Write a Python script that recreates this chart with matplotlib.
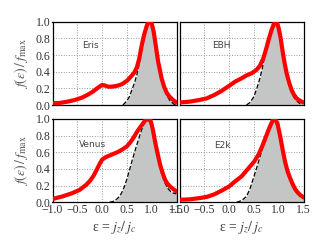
import matplotlib
matplotlib.use("Agg")
import matplotlib.pyplot as plt

plt.rcParams['font.family'] = ['Liberation Serif', 'DejaVu Serif']
plt.rcParams['mathtext.fontset'] = 'stix'

names = ["Eris", "EBH", "Venus", "E2k"]

eris_x = [-1.0, -0.85, -0.7, -0.55, -0.4, -0.3, -0.2, -0.1, -0.03, 0.0, 0.05, 0.12, 0.2, 0.3, 0.4, 0.5, 0.58,
          0.65, 0.7, 0.75, 0.8, 0.85, 0.9, 0.93, 0.97, 1.0, 1.04, 1.08, 1.13, 1.2, 1.25, 1.3, 1.36, 1.43, 1.5]
eris_y = [0.02, 0.025, 0.04, 0.06, 0.09, 0.12, 0.155, 0.2, 0.23, 0.24, 0.235, 0.22, 0.22, 0.23, 0.25, 0.29, 0.34,
          0.39, 0.45, 0.56, 0.72, 0.85, 0.95, 0.995, 1.0, 0.98, 0.88, 0.72, 0.52, 0.32, 0.22, 0.15, 0.10, 0.06, 0.03]
eris_dx = [0.42, 0.5, 0.55, 0.6, 0.65, 0.7, 0.75, 0.8, 0.85, 0.9, 0.95, 1.0, 1.05, 1.1, 1.15, 1.2, 1.25, 1.3,
           1.37, 1.45, 1.5]
eris_dy = [0.0, 0.05, 0.1, 0.18, 0.26, 0.36, 0.5, 0.68, 0.83, 0.94, 0.99, 0.97, 0.85, 0.64, 0.44, 0.29, 0.19,
           0.12, 0.05, 0.01, 0.0]

ebh_x = [-1.0, -0.8, -0.6, -0.45, -0.3, -0.15, 0.0, 0.12, 0.25, 0.35, 0.45, 0.55, 0.62, 0.69, 0.75, 0.8, 0.85,
         0.9, 0.94, 0.97, 1.0, 1.04, 1.08, 1.12, 1.16, 1.21, 1.26, 1.31, 1.36, 1.43, 1.5]
ebh_y = [0.03, 0.04, 0.06, 0.08, 0.12, 0.17, 0.23, 0.28, 0.32, 0.355, 0.38, 0.42, 0.47, 0.56, 0.68, 0.79, 0.89,
         0.97, 1.0, 0.98, 0.92, 0.8, 0.64, 0.5, 0.38, 0.27, 0.18, 0.12, 0.08, 0.05, 0.03]
ebh_dx = [0.35, 0.42, 0.5, 0.56, 0.62, 0.67, 0.72, 0.77, 0.82, 0.87, 0.91, 0.95, 1.0, 1.04, 1.08, 1.12, 1.16,
          1.21, 1.26, 1.31, 1.36, 1.42, 1.48]
ebh_dy = [0.0, 0.03, 0.1, 0.2, 0.32, 0.44, 0.6, 0.74, 0.86, 0.95, 0.99, 0.99, 0.9, 0.77, 0.61, 0.47, 0.35,
          0.24, 0.15, 0.09, 0.05, 0.02, 0.0]

venus_x = [-1.0, -0.8, -0.6, -0.45, -0.32, -0.24, -0.17, -0.1, -0.05, 0.0, 0.07, 0.15, 0.23, 0.31, 0.4, 0.5,
           0.57, 0.63, 0.7, 0.77, 0.83, 0.88, 0.93, 0.97, 1.0, 1.03, 1.07, 1.12, 1.17, 1.22, 1.27, 1.32, 1.37,
           1.43, 1.5]
venus_y = [0.04, 0.07, 0.11, 0.15, 0.21, 0.26, 0.32, 0.4, 0.46, 0.51, 0.54, 0.56, 0.58, 0.6, 0.63, 0.67,
           0.72, 0.77, 0.84, 0.9, 0.95, 0.99, 1.0, 0.99, 0.93, 0.85, 0.72, 0.58, 0.45, 0.35, 0.27, 0.22, 0.19,
           0.16, 0.13]
venus_dx = [0.15, 0.22, 0.3, 0.35, 0.4, 0.45, 0.5, 0.55, 0.6, 0.65, 0.7, 0.77, 0.83, 0.88, 0.93, 0.97, 1.0,
            1.04, 1.08, 1.12, 1.17, 1.22, 1.27, 1.32, 1.38, 1.44, 1.5]
venus_dy = [0.0, 0.01, 0.04, 0.07, 0.12, 0.19, 0.28, 0.38, 0.49, 0.59, 0.69, 0.82, 0.92, 0.97, 0.98, 0.96,
            0.9, 0.8, 0.66, 0.53, 0.41, 0.31, 0.23, 0.17, 0.13, 0.11, 0.1]

e2k_x = [-1.0, -0.8, -0.6, -0.45, -0.3, -0.15, 0.0, 0.12, 0.25, 0.38, 0.51, 0.6, 0.66, 0.72, 0.79, 0.84, 0.88,
         0.91, 0.94, 0.98, 1.03, 1.08, 1.13, 1.18, 1.23, 1.28, 1.33, 1.38, 1.43, 1.5]
e2k_y = [0.03, 0.035, 0.05, 0.065, 0.095, 0.14, 0.19, 0.25, 0.31, 0.4, 0.49, 0.58, 0.66, 0.75, 0.86, 0.93,
         0.98, 1.0, 0.99, 0.93, 0.79, 0.63, 0.48, 0.37, 0.29, 0.22, 0.16, 0.12, 0.09, 0.06]
e2k_dx = [0.15, 0.25, 0.35, 0.42, 0.49, 0.54, 0.59, 0.63, 0.68, 0.73, 0.79, 0.84, 0.88, 0.91, 0.94, 0.98, 1.03,
          1.08, 1.13, 1.18, 1.23, 1.28, 1.33, 1.38, 1.43, 1.5]
e2k_dy = [0.0, 0.02, 0.07, 0.16, 0.29, 0.38, 0.48, 0.56, 0.66, 0.75, 0.85, 0.92, 0.97, 0.99, 0.98, 0.91, 0.76,
          0.6, 0.45, 0.34, 0.26, 0.19, 0.14, 0.1, 0.07, 0.04]

red = [(eris_x, eris_y), (ebh_x, ebh_y), (venus_x, venus_y), (e2k_x, e2k_y)]
dashed = [(eris_dx, eris_dy), (ebh_dx, ebh_dy), (venus_dx, venus_dy), (e2k_dx, e2k_dy)]
label_pos = [(-0.4, 0.72), (-0.35, 0.72), (-0.47, 0.69), (-0.3, 0.68)]

xticks = [-1.0, -0.5, 0.0, 0.5, 1.0, 1.5]
xticklabels = ["\u22121.0", "\u22120.5", "0.0", "0.5", "1.0", "1.5"]
yticks = [0.0, 0.2, 0.4, 0.6, 0.8, 1.0]
yticklabels = ["0.0", "0.2", "0.4", "0.6", "0.8", "1.0"]

fig = plt.figure(figsize=(3.27, 2.46), dpi=100)
W, H = 327.0, 246.0
rects = [
    (52.5 / W, (H - 105) / H, 124 / W, 83.3 / H),
    (179.5 / W, (H - 105) / H, 124 / W, 83.3 / H),
    (52.5 / W, (H - 202.3) / H, 124 / W, 83.5 / H),
    (179.5 / W, (H - 202.3) / H, 124 / W, 83.5 / H),
]

for i, r in enumerate(rects):
    ax = fig.add_axes(r)
    dx, dy = dashed[i]
    ax.fill_between(dx, dy, 0, color='#c4c6c6', zorder=1, linewidth=0)
    ax.plot(dx, dy, color='black', linestyle='--', linewidth=0.9, zorder=2)
    rx, ry = red[i]
    ax.plot(rx, ry, color='#ff0000', linewidth=3.0, zorder=3, solid_capstyle='round', solid_joinstyle='round')
    ax.set_xlim(-1.0, 1.5)
    ax.set_ylim(0.0, 1.0)
    ax.set_xticks(xticks)
    ax.set_yticks(yticks)
    ax.grid(True, color='#999999', linestyle=':', linewidth=0.7, zorder=0)
    ax.set_axisbelow(True)
    ax.tick_params(direction='in', length=0, labelsize=8.5, colors='#333333', pad=1.5)
    for s in ax.spines.values():
        s.set_linewidth(0.9)
        s.set_color('black')
    if i < 2:
        ax.set_xticklabels([])
    else:
        ax.set_xticklabels(xticklabels)
        ax.set_xlabel("\u03b5 = $j_z/\\,j_c$", fontsize=10, color='#444444', labelpad=2)
    if i % 2 == 1:
        ax.set_yticklabels([])
    else:
        ax.set_yticklabels(yticklabels)
    lx, ly = label_pos[i]
    ax.text(lx, ly, names[i], fontsize=6.5, color='#444444', family='DejaVu Sans', va='center', ha='left')

for r in (rects[0], rects[2]):
    fig.text(21 / W, r[1] + r[3] / 2, r"$f(\epsilon)\,/\,f_{\rm max}$", rotation=90,
             ha='center', va='center', fontsize=10, color='#555555')

fig.savefig("out.png", dpi=100)
